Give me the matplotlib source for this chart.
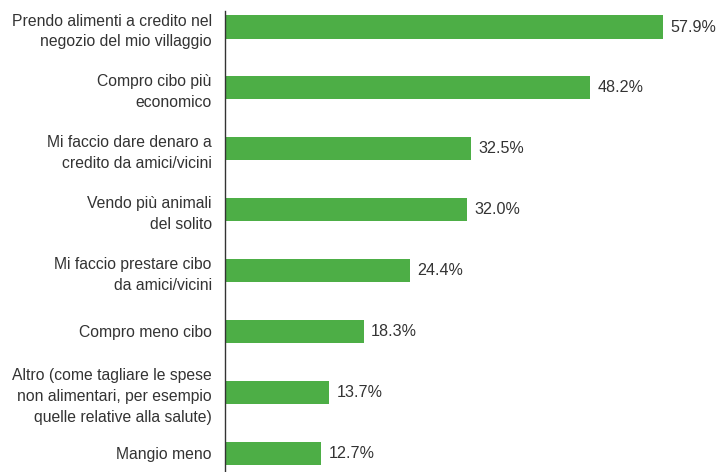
import matplotlib.pyplot as plt

categories = [
    "Prendo alimenti a credito nel\nnegozio del mio villaggio",
    "Compro cibo più\neconomico",
    "Mi faccio dare denaro a\ncredito da amici/vicini",
    "Vendo più animali\ndel solito",
    "Mi faccio prestare cibo\nda amici/vicini",
    "Compro meno cibo",
    "Altro (come tagliare le spese\nnon alimentari, per esempio\nquelle relative alla salute)",
    "Mangio meno",
]
values = [57.9, 48.2, 32.5, 32.0, 24.4, 18.3, 13.7, 12.7]

bar_color = "#4DAE46"
text_color = "#333333"

fig = plt.figure(figsize=(7.17, 4.72), dpi=100)
ax = fig.add_axes([225 / 717, 0, 492 / 717, 461 / 472])

positions = list(range(len(values)))
ax.barh(positions, values, height=0.38, color=bar_color)

for pos, val in zip(positions, values):
    ax.text(val + 1.0, pos, f"{val:.1f}%", va="center", ha="left",
            fontsize=11.6, color=text_color, family="Liberation Sans")

ax.set_xlim(0, 65)
ax.set_ylim(7.31, -0.263)
ax.set_yticks(positions)
ax.set_yticklabels(categories, fontsize=11.3, color=text_color,
                   family="Liberation Sans", linespacing=1.48)
ax.tick_params(axis="y", length=0, pad=9.5)
ax.set_xticks([])

for side in ["top", "right", "bottom"]:
    ax.spines[side].set_visible(False)
ax.spines["left"].set_color("#333333")
ax.spines["left"].set_linewidth(1.0)

fig.savefig("out.png", dpi=100)
